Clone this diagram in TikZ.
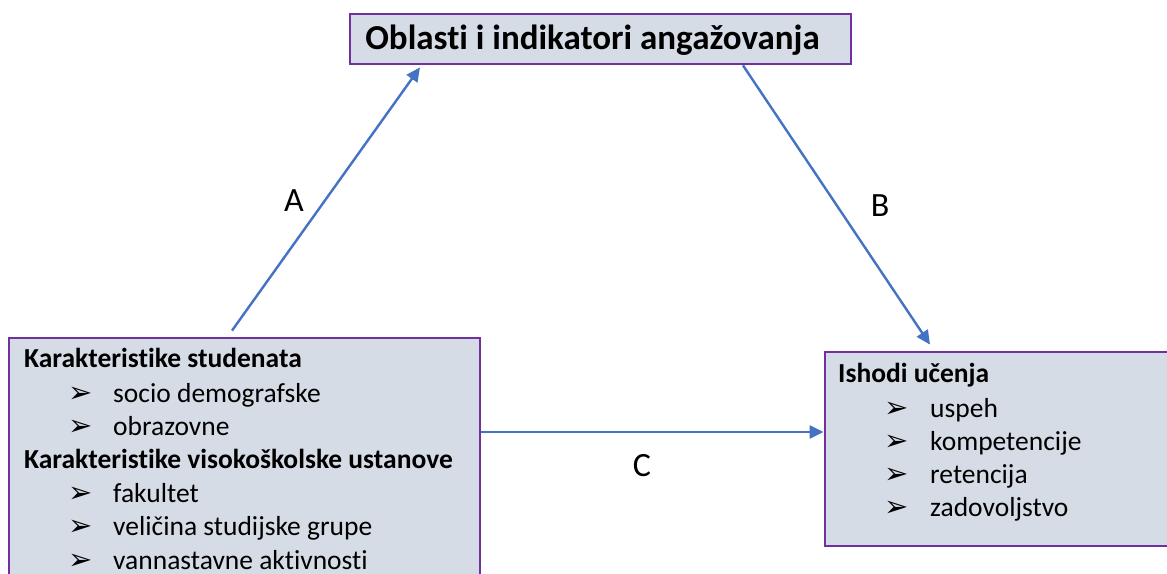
\documentclass[tikz,border=0pt]{standalone}
\usepackage{fontspec}
\setmainfont{Carlito}[Ligatures=NoCommon]
\newfontfamily\dingfont{DejaVu Sans}
\usetikzlibrary{arrows.meta}
\definecolor{boxfill}{HTML}{D6DCE5}
\definecolor{boxline}{HTML}{7030A0}
\definecolor{arrowblue}{HTML}{4472C4}

\begin{document}
\begin{tikzpicture}[x=1pt,y=-1pt,
  panel/.style={draw=boxline, line width=2.8pt, fill=boxfill, inner sep=0pt},
  link/.style={draw=arrowblue, line width=2.4pt, -{Triangle[length=14pt,width=13pt]}},
  titletext/.style={font=\bfseries\fontsize{35}{40}\selectfont, inner sep=0pt},
  headtext/.style={anchor=base west, font=\bfseries\fontsize{27.5}{32}\selectfont, inner sep=0pt},
  itemtext/.style={anchor=base west, font=\fontsize{27.5}{32}\selectfont, inner sep=0pt},
  bullet/.style={anchor=base west, font=\dingfont\fontsize{29}{32}\selectfont, inner sep=0pt},
  tag/.style={font=\fontsize{34}{38}\selectfont, inner sep=0pt}
]
\useasboundingbox (0,0) rectangle (1167,573);
\fill[white] (0,0) rectangle (1167,573);

% boxes
\node[panel, minimum width=501pt, minimum height=50pt] (top) at (600.5,39) {};
\node[panel, minimum width=471pt, minimum height=262pt] (left) at (244.5,469) {};
\node[panel, minimum width=350pt, minimum height=194pt] (right) at (1000,449) {};

% title
\node[titletext] (title) at ([xshift=-8pt,yshift=-1pt]top.center) {Oblasti i indikatori angažovanja};

% left box contents
\node[headtext] (h1) at (24,367) {Karakteristike studenata};
\node[bullet] (b1) at (68,402) {➢};
\node[itemtext] (t1) at (113,402) {socio demografske};
\node[bullet] (b2) at (68,435) {➢};
\node[itemtext] (t2) at (113,435) {obrazovne};
\node[headtext] (h2) at (24,468) {Karakteristike visokoškolske ustanove};
\node[bullet] (b3) at (68,502) {➢};
\node[itemtext] (t3) at (113,502) {fakultet};
\node[bullet] (b4) at (68,535) {➢};
\node[itemtext] (t4) at (113,535) {veličina studijske grupe};
\node[bullet] (b5) at (68,569) {➢};
\node[itemtext] (t5) at (113,569) {vannastavne aktivnosti};

% right box contents
\node[headtext] (h3) at (838,382) {Ishodi učenja};
\node[bullet] (b6) at (884,417) {➢};
\node[itemtext] (t6) at (930,417) {uspeh};
\node[bullet] (b7) at (884,450) {➢};
\node[itemtext] (t7) at (930,450) {kompetencije};
\node[bullet] (b8) at (884,483) {➢};
\node[itemtext] (t8) at (930,483) {retencija};
\node[bullet] (b9) at (884,516) {➢};
\node[itemtext] (t9) at (930,516) {zadovoljstvo};

% connectors
\draw[link] ([xshift=-12.5pt,yshift=6pt]left.north) -- ([xshift=-180.5pt,yshift=-2pt]top.south);
\draw[link] ([xshift=142.5pt]top.south) -- ([xshift=-70pt,yshift=6pt]right.north);
\draw[link] ([yshift=37pt]left.east) -- ([yshift=17pt]right.west);

% connector labels
\node[tag] (la) at (294,201) {A};
\node[tag] (lb) at (880,206) {B};
\node[tag] (lc) at (642,466) {C};
\end{tikzpicture}
\end{document}
